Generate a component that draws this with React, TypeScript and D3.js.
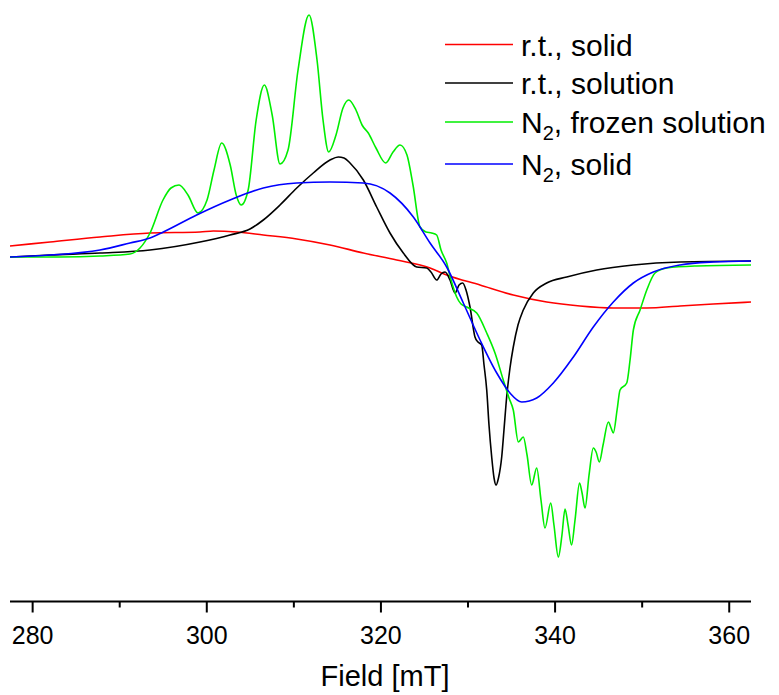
import React from "react";
import * as d3 from "d3";

// Field (mT) and intensity (arb. units)
const redField = [277.4, 282.0, 287.74, 293.48, 299.22, 300.75, 303.44, 306.49, 310.33, 314.15, 317.98, 321.81, 325.64, 327.55, 331.38, 335.2, 339.04, 342.86, 346.69, 350.52, 354.35, 358.17, 362.5];
const redValue = [11, 15, 20, 24, 25, 26, 25, 22, 18, 12, 4, -3, -11, -18, -28, -38, -45, -49, -51, -51, -49, -47, -45];

const blackField = [277.4, 282.0, 287.74, 293.48, 299.22, 302.67, 304.96, 306.49, 308.41, 310.33, 312.23, 314.15, 315.1, 315.76, 316.45, 317.98, 319.51, 321.04, 322.57, 324.11, 325.26, 325.75, 326.41, 326.9, 327.36, 327.93, 328.51, 328.97, 329.39, 329.77, 330.23, 330.8, 331.15, 331.57, 331.84, 332.15, 332.41, 332.72, 332.99, 333.22, 333.5, 333.87, 334.13, 334.44, 334.82, 335.2, 335.74, 336.35, 337.5, 339.04, 341.34, 344.78, 348.99, 354.35, 362.5];
const blackValue = [0, 2, 4, 7, 15, 22, 28, 37, 52, 69, 84, 97, 100, 99, 94, 77, 50, 24, 4, -10, -11, -15, -23, -17, -15, -23, -36, -28, -26, -33, -50, -80, -85, -88, -108, -133, -168, -200, -221, -228, -221, -200, -173, -140, -111, -90, -68, -53, -36, -26, -20, -13, -8, -5, -4];

const greenField = [277.4, 283.14, 287.74, 291.18, 292.33, 293.48, 294.97, 295.89, 296.81, 297.84, 298.99, 300.03, 300.83, 301.71, 302.69, 303.38, 303.95, 304.75, 305.67, 306.61, 307.51, 308.41, 309.33, 310.48, 311.74, 312.66, 313.35, 314.0, 314.84, 315.64, 316.3, 317.13, 317.83, 318.55, 319.43, 320.55, 321.39, 322.19, 322.99, 323.68, 324.49, 325.17, 325.83, 326.4, 326.9, 327.55, 328.05, 328.7, 329.2, 329.85, 331.0, 332.15, 333.1, 334.05, 334.71, 335.2, 335.78, 336.35, 336.78, 337.31, 337.89, 338.38, 338.84, 339.5, 339.87, 340.37, 340.79, 341.14, 341.49, 341.89, 342.29, 342.81, 343.1, 343.44, 343.9, 344.39, 344.71, 345.08, 345.51, 346.12, 346.43, 346.69, 347.12, 347.46, 348.23, 348.61, 348.99, 349.76, 350.53, 351.48, 352.82, 356.27, 362.5];
const greenValue = [0, 0, 1, 3, 9, 24, 57, 69, 72, 62, 44, 57, 87, 114, 92, 62, 52, 67, 137, 172, 142, 93, 107, 187, 242, 197, 137, 105, 122, 149, 157, 147, 132, 124, 109, 94, 105, 112, 102, 72, 30, 25, 24, 22, 7, -6, -23, -40, -47, -50, -56, -76, -96, -123, -141, -153, -185, -180, -198, -228, -211, -243, -271, -246, -268, -300, -278, -252, -268, -288, -263, -226, -236, -251, -218, -191, -195, -205, -188, -165, -171, -176, -153, -133, -126, -103, -73, -53, -33, -16, -11, -9, -8];

const blueField = [277.4, 282.0, 287.74, 291.18, 293.48, 295.01, 298.84, 302.67, 306.49, 310.33, 314.15, 317.98, 321.04, 323.72, 325.64, 327.55, 329.46, 331.38, 333.3, 334.82, 336.17, 337.89, 339.8, 342.1, 344.39, 346.69, 348.99, 351.28, 354.35, 358.17, 362.5];
const blueValue = [0, 2, 7, 14, 19, 25, 42, 57, 69, 74, 75, 74, 64, 40, 14, -10, -46, -83, -116, -136, -145, -141, -126, -100, -70, -45, -26, -15, -8, -5, -4];

const seriesNames = ["r.t., solid", "r.t., solution", "N2, frozen solution", "N2, solid"];
const seriesColors = ["#ff0000", "#000000", "#00ee00", "#0000ff"];
const xTicks = [280, 300, 320, 340, 360];
const xMinorTicks = [290, 310, 330, 350];

export default function App() {
  const W = 779, H = 695;
  const x = d3.scaleLinear().domain([277.4, 362.5]).range([10, 751]);
  const y = d3.scaleLinear().domain([-344, 257]).range([601, 0]);
  const line = d3
    .line<[number, number]>()
    .x((d) => x(d[0]))
    .y((d) => y(d[1]))
    .curve(d3.curveMonotoneX);

  const series = [
    { f: redField, v: redValue },
    { f: blackField, v: blackValue },
    { f: greenField, v: greenValue },
    { f: blueField, v: blueValue },
  ].map((s, i) => ({
    pts: s.f.map((f, k) => [f, s.v[k]] as [number, number]),
    color: seriesColors[i],
    name: seriesNames[i],
  }));

  const axisY = 601.5;
  const font = "'Liberation Sans', Arial, sans-serif";
  const legendYs = [44.5, 83, 122, 164];

  const renderName = (name: string) => {
    if (name.startsWith("N2")) {
      return (
        <>
          N
          <tspan fontSize={20} dy={7}>2</tspan>
          <tspan dy={-7}>{name.slice(2)}</tspan>
        </>
      );
    }
    return name;
  };

  return (
    <svg
      width={W}
      height={H}
      style={{ position: "absolute", left: 0, top: 0, background: "#fff" }}
    >
      <rect x={0} y={0} width={W} height={H} fill="#fff" />
      {series.map((s, i) => (
        <path key={i} d={line(s.pts) || ""} fill="none" stroke={s.color} strokeWidth={1.6} />
      ))}
      {/* axis */}
      <line x1={10} x2={751} y1={axisY} y2={axisY} stroke="#000" strokeWidth={2} />
      {xTicks.map((t) => (
        <g key={t}>
          <line x1={x(t)} x2={x(t)} y1={axisY} y2={axisY + 11} stroke="#000" strokeWidth={2} />
          <text x={x(t)} y={644} textAnchor="middle" fontSize={25} fontFamily={font} fill="#000">
            {t}
          </text>
        </g>
      ))}
      {xMinorTicks.map((t) => (
        <line key={t} x1={x(t)} x2={x(t)} y1={axisY} y2={axisY + 6} stroke="#000" strokeWidth={2} />
      ))}
      <text x={385} y={686} textAnchor="middle" fontSize={29} fontFamily={font} fill="#000">
        Field [mT]
      </text>
      {/* legend */}
      {series.map((s, i) => (
        <g key={"lg" + i}>
          <line x1={445} x2={513} y1={legendYs[i]} y2={legendYs[i]} stroke={s.color} strokeWidth={1.6} />
          <text x={521} y={legendYs[i] + 11} fontSize={30} fontFamily={font} fill="#000">
            {renderName(s.name)}
          </text>
        </g>
      ))}
    </svg>
  );
}
